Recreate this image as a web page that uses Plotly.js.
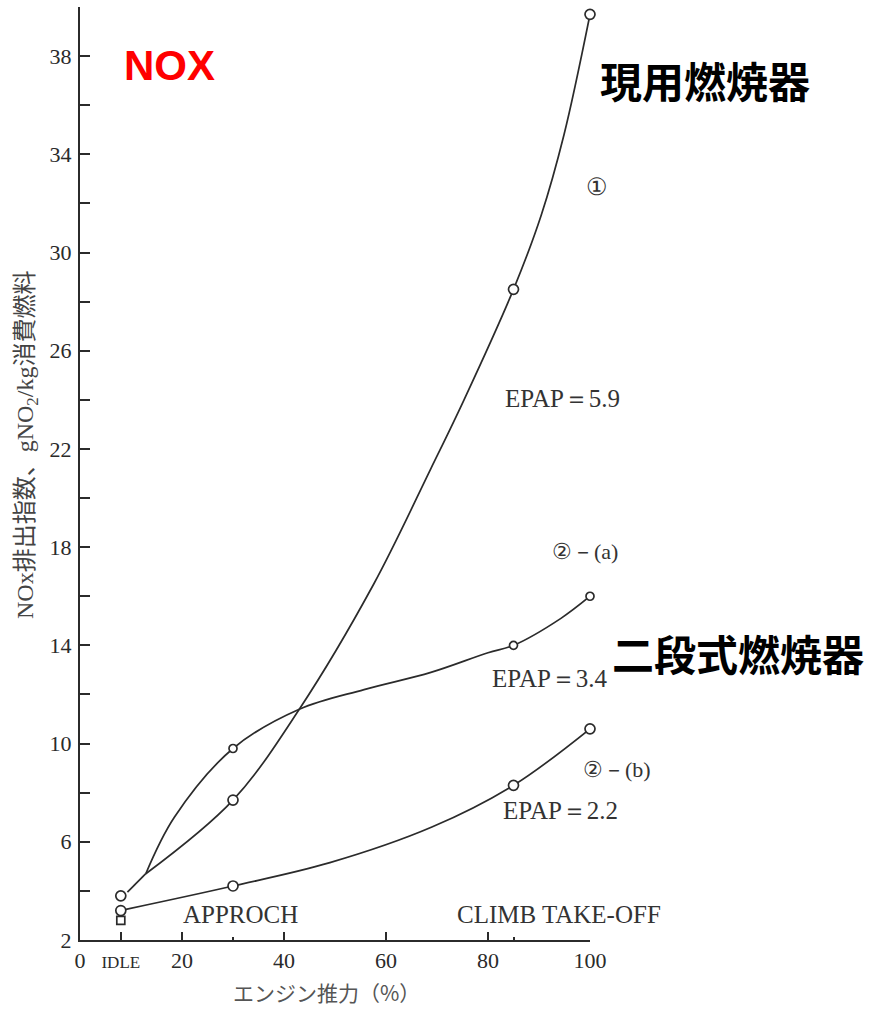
<!DOCTYPE html>
<html>
<head>
<meta charset="utf-8">
<script src="https://cdn.plot.ly/plotly-3.0.1.min.js"></script>
<style>html,body{margin:0;padding:0;background:#fff;}#chart{width:870px;height:1009px;}</style>
</head>
<body>
<div id="chart"></div>
<script>
// Measured points (markers)
const s1X = [8, 30, 85, 100];
const s1Y = [3.8, 7.7, 28.5, 39.7];
const s2aX = [30, 85, 100];
const s2aY = [9.8, 14.0, 16.0];
const s2bX = [8, 30, 85, 100];
const s2bY = [3.2, 4.2, 8.3, 10.6];
const idleExtraX = [8];
const idleExtraY = [2.8];

// Curves
const cSharedX = [9.3, 12.9];            // common stretch of ① and ②-(a) near idle
const cSharedY = [3.95, 4.7];
const c1X = [12.9, 30, 43, 57.6, 68.8, 75.3, 85, 90.4, 94.9, 100];
const c1Y = [4.7, 7.7, 11.4, 16.5, 21.2, 24.0, 28.5, 31.5, 34.8, 39.7];
const c2aX = [12.9, 18.5, 30, 43, 55.7, 68.8, 80, 85, 94.3, 100];
const c2aY = [4.7, 7.0, 9.8, 11.4, 12.2, 12.9, 13.7, 14.0, 15.1, 16.0];
const c2bX = [9, 30, 49, 69, 85, 100];
const c2bY = [3.25, 4.2, 5.15, 6.6, 8.3, 10.6];

// Tick labels
const xTickVals = [0, 8, 20, 40, 60, 80, 100];
const xTickText = ['0', '<span style="font-size:17px">IDLE</span>', '20', '40', '60', '80', '100'];
const yTickVals = [2, 6, 10, 14, 18, 22, 26, 30, 34, 38];
const yMinorVals = [4, 8, 12, 16, 20, 24, 28, 32, 36, 40];

const ink = '#2b2b2b';
const serif = 'Liberation Serif, DejaVu Serif, serif';
const cjk = 'Noto Sans CJK JP, Noto Sans, sans-serif';

// pixel -> paper helpers for label placement (plot area: x 80..590, y 7..940)
const PX = p => (p - 80) / 510;
const PY = p => (940 - p) / 933;

function curve(x, y) {
  return {x: x, y: y, mode: 'lines', type: 'scatter', hoverinfo: 'skip',
    line: {color: ink, width: 1.7, shape: 'spline', smoothing: 1}, showlegend: false, cliponaxis: false};
}
function pts(x, y, sym, size) {
  return {x: x, y: y, mode: 'markers', type: 'scatter', showlegend: false, cliponaxis: false,
    marker: {symbol: sym, size: size, color: '#fff', line: {color: ink, width: 1.7}}};
}

const data = [
  curve(cSharedX, cSharedY), curve(c1X, c1Y), curve(c2aX, c2aY), curve(c2bX, c2bY),
  pts(s1X, s1Y, 'circle', 10),
  pts(s2aX, s2aY, 'circle', 8),
  pts(s2bX, s2bY, 'circle', 10),
  pts(idleExtraX, idleExtraY, 'square', 8)
];

const txt = (text, x, y, size, opts) => Object.assign({
  text: text, x: PX(x), y: PY(y), xref: 'paper', yref: 'paper', showarrow: false,
  font: {family: serif, size: size, color: '#333'}, xanchor: 'center', yanchor: 'middle'
}, opts || {});

const annotations = [
  txt('NOX', 169, 66, 42, {font: {family: 'Liberation Sans, Arial, sans-serif', size: 42, color: '#ff0000', weight: 'bold'}}),
  txt('現用燃焼器', 598, 79, 42, {xanchor: 'left', font: {family: cjk, size: 42, color: '#000', weight: 'bold'}}),
  txt('二段式燃焼器', 610, 652, 42, {xanchor: 'left', font: {family: cjk, size: 42, color: '#000', weight: 'bold'}}),
  txt('①', 597, 187, 24),
  txt('EPAP＝5.9', 562, 398, 25),
  txt('②－(a)', 585, 551, 22),
  txt('EPAP＝3.4', 550, 678, 25),
  txt('②－(b)', 617, 769, 22),
  txt('EPAP＝2.2', 560, 810, 25),
  txt('APPROCH', 240, 914, 25),
  txt('CLIMB TAKE-OFF', 559, 914, 25),
  txt('NOx排出指数、gNO<sub>2</sub>/kg消費燃料', 27, 445, 24, {textangle: -90,
   font: {family: 'Liberation Serif, Noto Sans CJK JP, serif', size: 24, color: '#444'}}),
  txt('エンジン推力（%）', 326, 992, 21, {font: {family: 'Noto Sans CJK JP, serif', size: 21, color: '#555'}})
];

const layout = {
  width: 870, height: 1009,
  margin: {l: 80, r: 280, t: 7, b: 69},
  paper_bgcolor: '#fff', plot_bgcolor: '#fff',
  showlegend: false,
  xaxis: {range: [0, 100], showgrid: false, zeroline: false, showline: true,
    linecolor: ink, linewidth: 2, ticks: 'inside', ticklen: 8, tickwidth: 2, tickcolor: ink,
    tickmode: 'array', tickvals: xTickVals, ticktext: xTickText, ticklabelstandoff: 0,
    tickfont: {family: serif, size: 22, color: '#2a2a2a'},
    minor: {tickvals: [30, 85], ticks: 'inside', ticklen: 3, tickwidth: 2, tickcolor: ink}},
  yaxis: {range: [2, 40], showgrid: false, zeroline: false, showline: true,
    linecolor: ink, linewidth: 2, ticks: 'inside', ticklen: 10, tickwidth: 2, tickcolor: ink,
    tickmode: 'array', tickvals: yTickVals, ticklabelstandoff: 2,
    tickfont: {family: serif, size: 22, color: '#2a2a2a'},
    minor: {tickvals: yMinorVals, ticks: 'inside', ticklen: 10, tickwidth: 2, tickcolor: ink}},
  annotations: annotations
};

Plotly.newPlot('chart', data, layout, {displayModeBar: false, staticPlot: true});
</script>
</body>
</html>
